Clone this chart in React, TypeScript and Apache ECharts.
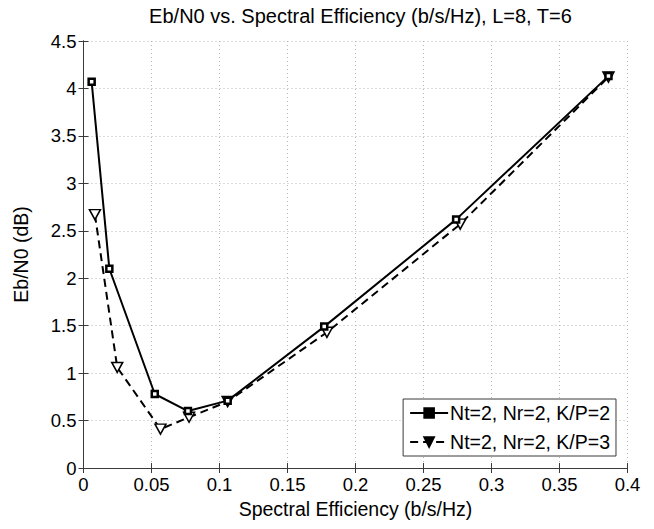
import React, { useEffect, useRef } from "react";
import * as echarts from "echarts";

const seriesNames = ["Nt=2, Nr=2, K/P=2", "Nt=2, Nr=2, K/P=3"];
const kp2X = [0.006, 0.019, 0.0524, 0.0768, 0.106, 0.177, 0.274, 0.386];
const kp2Y = [4.07, 2.1, 0.78, 0.6, 0.71, 1.49, 2.62, 4.13];
const kp3X = [0.0084, 0.0248, 0.0566, 0.0776, 0.106, 0.179, 0.277, 0.386];
const kp3Y = [2.67, 1.06, 0.41, 0.535, 0.7, 1.43, 2.57, 4.12];

const FONT = "Liberation Sans";
const FS = 18.5;
const FS_TEXT = 19.5;

export default function App() {
  const ref = useRef<HTMLDivElement>(null);
  useEffect(() => {
    const chart = echarts.init(ref.current!, undefined, { renderer: "svg" });
    const axisLine = { show: true, lineStyle: { color: "#3a3a3a", width: 1 } };
    const tick = { show: true, inside: true, length: 5, lineStyle: { color: "#3a3a3a" } };
    const grid = { show: true, lineStyle: { color: "#b8b8b8", type: [1, 3] as any, width: 1 } };
    chart.setOption({
      animation: false,
      backgroundColor: "#fff",
      title: {
        text: "Eb/N0 vs. Spectral Efficiency (b/s/Hz), L=8, T=6",
        left: 355.5,
        textAlign: "center",
        top: 1,
        textStyle: { fontFamily: FONT, fontSize: 20, fontWeight: "normal", color: "#000" },
      },
      grid: { left: 83.5, right: 26.5, top: 41, bottom: 61 },
      legend: {
        right: 38,
        bottom: 73,
        orient: "vertical",
        backgroundColor: "#fff",
        borderColor: "#3a3a3a",
        borderWidth: 1,
        padding: [4, 6, 4, 6],
        itemGap: 9,
        itemWidth: 38,
        itemHeight: 12,
        textStyle: { fontFamily: FONT, fontSize: FS_TEXT, color: "#000", padding: [0, 0, 0, -3] },
        data: [
          { name: seriesNames[0], itemStyle: { color: "#000", borderColor: "#000" } },
          { name: seriesNames[1], itemStyle: { color: "#000", borderColor: "#000" } },
        ],
      },
      xAxis: [
        {
          type: "value",
          min: 0,
          max: 0.4,
          interval: 0.05,
          name: "Spectral Efficiency (b/s/Hz)",
          nameLocation: "middle",
          nameGap: 31,
          nameTextStyle: { fontFamily: FONT, fontSize: FS_TEXT, color: "#000" },
          axisLine,
          axisTick: tick,
          splitLine: grid,
          axisLabel: { fontFamily: FONT, fontSize: FS, color: "#000", margin: 7 },
        },
        {
          type: "value",
          position: "top",
          min: 0,
          max: 0.4,
          interval: 0.05,
          axisLine,
          axisTick: tick,
          splitLine: { show: false },
          axisLabel: { show: false },
        },
      ],
      yAxis: [
        {
          type: "value",
          min: 0,
          max: 4.5,
          interval: 0.5,
          name: "Eb/N0 (dB)",
          nameLocation: "middle",
          nameGap: 53,
          nameTextStyle: { fontFamily: FONT, fontSize: FS_TEXT, color: "#000" },
          axisLine,
          axisTick: tick,
          splitLine: grid,
          axisLabel: { fontFamily: FONT, fontSize: FS, color: "#000", margin: 7 },
        },
        {
          type: "value",
          position: "right",
          min: 0,
          max: 4.5,
          interval: 0.5,
          axisLine,
          axisTick: tick,
          splitLine: { show: false },
          axisLabel: { show: false },
        },
      ],
      series: [
        {
          name: seriesNames[0],
          type: "line",
          data: kp2X.map((x, i) => [x, kp2Y[i]]),
          symbol: "rect",
          symbolSize: 6,
          lineStyle: { color: "#000", width: 2 },
          itemStyle: { color: "#fff", borderColor: "#000", borderWidth: 2.5 },
          z: 3,
        },
        {
          name: seriesNames[1],
          type: "line",
          data: kp3X.map((x, i) => [x, kp3Y[i]]),
          symbol: "triangle",
          symbolRotate: 180,
          symbolSize: [11, 10],
          lineStyle: { color: "#000", width: 2, type: [8, 5] },
          itemStyle: { color: "#fff", borderColor: "#000", borderWidth: 1.5 },
          z: 2,
        },
      ],
    });
    return () => chart.dispose();
  }, []);
  return <div ref={ref} style={{ width: 654, height: 529, margin: -8 }} />;
}
